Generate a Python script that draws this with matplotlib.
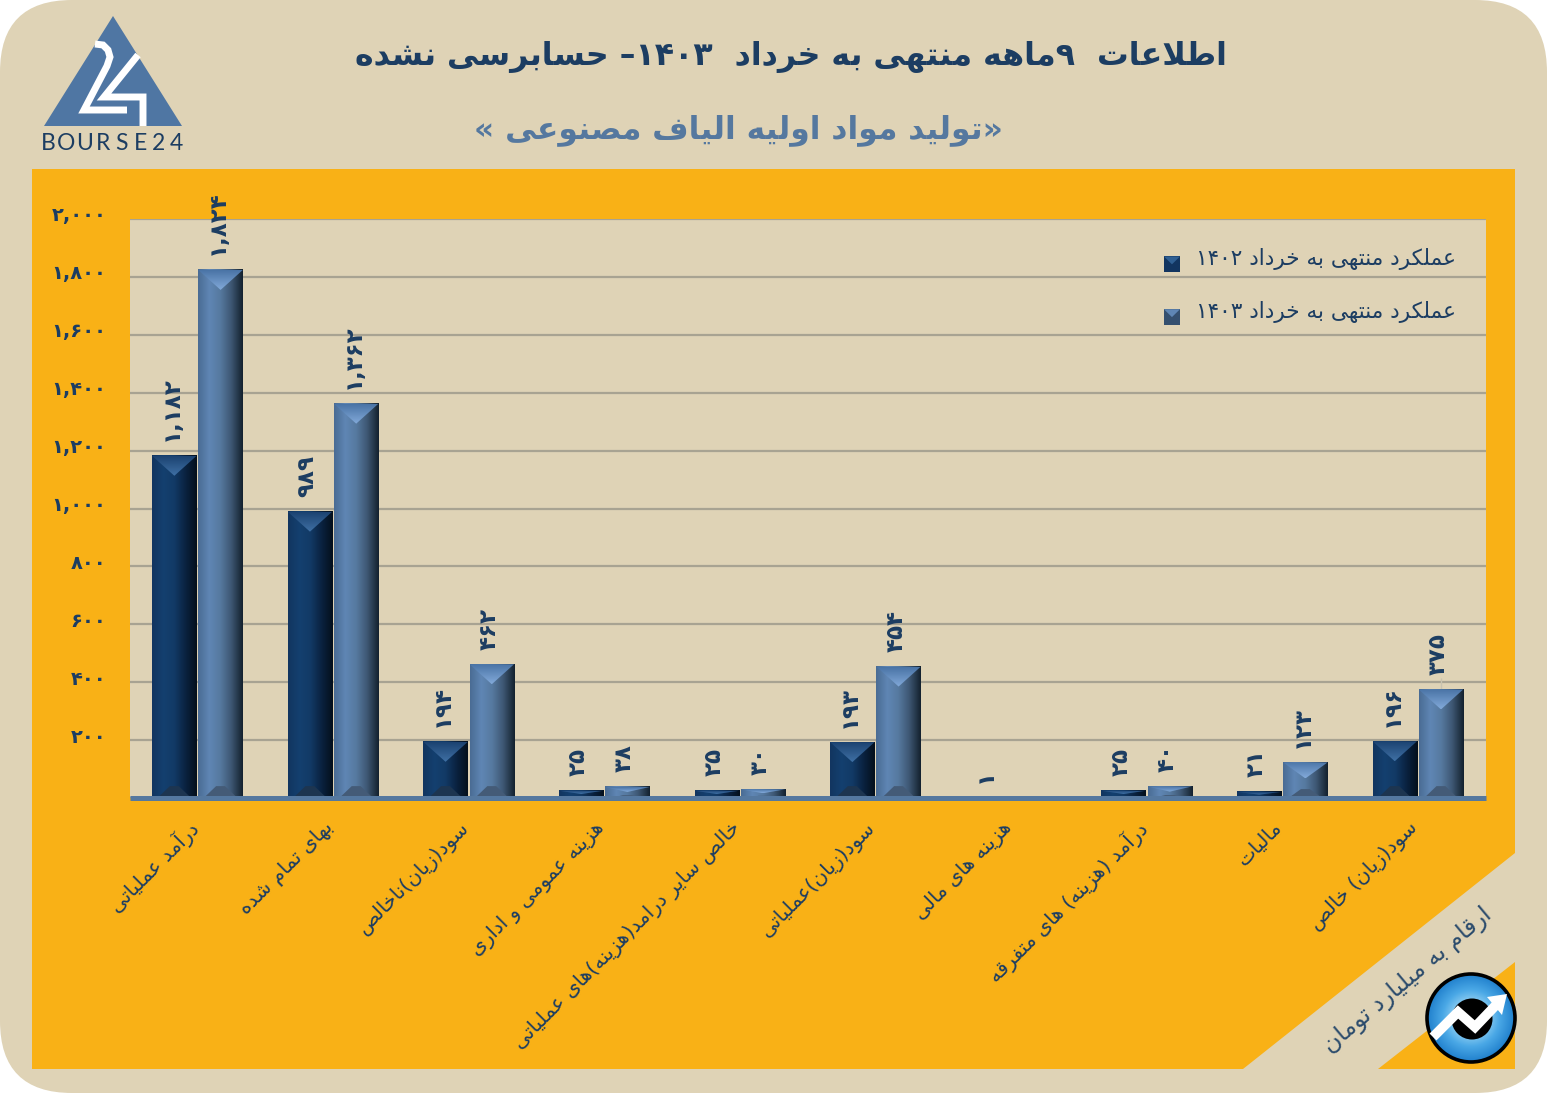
"""Bar chart of nine month results, Persian labels shaped by hand for matplotlib."""
import re

import matplotlib
matplotlib.use('Agg')
import matplotlib.pyplot as plt
import numpy as np
from matplotlib.colors import LinearSegmentedColormap
from matplotlib.legend_handler import HandlerBase
from matplotlib.patches import Circle, FancyBboxPatch, Patch, Polygon, Rectangle
from matplotlib.ticker import FuncFormatter
from matplotlib.transforms import ScaledTranslation

plt.rcParams['font.family'] = ['DejaVu Sans']

# .....................................................................................
categories = [
    'درآمد عملیاتی',
    'بهای تمام شده',
    'سود(زیان)ناخالص',
    'هزینه عمومی و اداری',
    'خالص سایر درامد(هزینه)های عملیاتی',
    'سود(زیان)عملیاتی',
    'هزینه های مالی',
    'درآمد (هزینه) های متفرقه',
    'مالیات',
    'سود(زیان) خالص',
]
values_1402 = [1182, 989, 194, 25, 25, 193, 1, 25, 21, 196]
values_1403 = [1824, 1362, 462, 38, 30, 454, 0, 40, 123, 375]
y_ticks = [0, 200, 400, 600, 800, 1000, 1200, 1400, 1600, 1800, 2000]

title = 'اطلاعات  ۹ماهه منتهی به خرداد  ۱۴۰۳– حسابرسی نشده'
subtitle = '»تولید مواد اولیه الیاف مصنوعی «'
legend_1402 = 'عملکرد منتهی به خرداد ۱۴۰۲'
legend_1403 = 'عملکرد منتهی به خرداد ۱۴۰۳'
unit_note = 'ارقام به میلیارد تومان'

NAVY = '#1c3d62'
BEIGE = '#dfd3b6'
ORANGE = '#f9b116'
STEEL = '#55789f'

# isolated form of the letters that take four forms, in order iso, final, init, medial
DUAL = {
    'ب': 0xFE8F, 'ت': 0xFE95, 'ث': 0xFE99, 'ج': 0xFE9D, 'ح': 0xFEA1, 'خ': 0xFEA5,
    'س': 0xFEB1, 'ش': 0xFEB5, 'ص': 0xFEB9, 'ض': 0xFEBD, 'ط': 0xFEC1, 'ظ': 0xFEC5,
    'ع': 0xFEC9, 'غ': 0xFECD, 'ف': 0xFED1, 'ق': 0xFED5, 'ل': 0xFEDD, 'م': 0xFEE1,
    'ن': 0xFEE5, 'ه': 0xFEE9, 'پ': 0xFB56, 'چ': 0xFB7A, 'ک': 0xFB8E, 'گ': 0xFB92,
    'ی': 0xFBFC,
}
RIGHT = {
    'آ': 0xFE81, 'ا': 0xFE8D, 'د': 0xFEA9, 'ذ': 0xFEAB, 'ر': 0xFEAD, 'ز': 0xFEAF,
    'ژ': 0xFB8A, 'و': 0xFEED,
}
MIRROR = str.maketrans({'(': ')', ')': '('})


# .....................................................................................
def fa(text):
    """Return Persian text in visual order using presentation forms."""
    shaped = []
    for i, ch in enumerate(text):
        prev_ch = text[i - 1] if i > 0 else ''
        next_ch = text[i + 1] if i + 1 < len(text) else ''
        joins_prev = prev_ch in DUAL
        joins_next = next_ch in DUAL or next_ch in RIGHT
        if ch == 'ا' and prev_ch == 'ل':
            continue
        if ch == 'ل' and next_ch == 'ا':
            shaped.append(chr(0xFEFC if joins_prev else 0xFEFB))
        elif ch in DUAL:
            offset = {(False, False): 0, (True, False): 1,
                      (False, True): 2, (True, True): 3}[(joins_prev, joins_next)]
            shaped.append(chr(DUAL[ch] + offset))
        elif ch in RIGHT:
            shaped.append(chr(RIGHT[ch] + (1 if joins_prev else 0)))
        else:
            shaped.append(ch)
    visual = ''.join(reversed(shaped)).translate(MIRROR)
    return re.sub('[۰-۹][۰-۹,]*', lambda m: m.group(0)[::-1], visual)


def fa_number(value):
    """Format a number with Persian digits and a thousands comma."""
    return f'{int(value):,}'.translate(str.maketrans('0123456789', '۰۱۲۳۴۵۶۷۸۹'))


def draw_bevel(ax, bar, side_colors, top_colors, bottom_color):
    """Paint the gradient faces of a bar over its plain rectangle."""
    x0, x1 = bar.get_x(), bar.get_x() + bar.get_width()
    height = bar.get_height()
    if height <= 0:
        return
    center = (x0 + x1) / 2
    bw = x1 - x0
    top_depth = min(69, height * 0.45)
    bottom_depth = min(41, height * 0.25)
    side = LinearSegmentedColormap.from_list('side', side_colors)
    ax.imshow(np.linspace(0, 1, 64).reshape(1, -1), extent=(x0, x1, 0, height),
              cmap=side, aspect='auto', zorder=2)
    top = Polygon([(x0, height), (x1, height), (center, height - top_depth)],
                  transform=ax.transData, fc='none', ec='none')
    ax.add_patch(top)
    top_map = LinearSegmentedColormap.from_list('top', top_colors)
    top_img = ax.imshow(np.linspace(0, 1, 32).reshape(-1, 1),
                        extent=(x0, x1, height - top_depth, height),
                        cmap=top_map, aspect='auto', zorder=2.1, origin='upper')
    top_img.set_clip_path(top)
    ax.add_patch(Polygon([(x0 + bw * 0.12, 0), (x1 - bw * 0.12, 0),
                          (center + bw * 0.1, bottom_depth), (center - bw * 0.1, bottom_depth)],
                         fc=bottom_color, ec='none', zorder=2.1))


class BevelHandler(HandlerBase):
    """Legend key: a square set a little low with a lighter wedge on top."""

    def create_artists(self, legend, orig_handle, xdescent, ydescent, width, height,
                       fontsize, trans):
        y0 = -ydescent - 5
        square = Rectangle((-xdescent, y0), width, height, fc=orig_handle.get_facecolor(),
                           ec='none', transform=trans)
        wedge = Polygon([(-xdescent, y0 + height), (-xdescent + width, y0 + height),
                         (-xdescent + width / 2, y0 + height / 2)],
                        fc=orig_handle.get_edgecolor(), ec='none', transform=trans)
        return [square, wedge]


# .....................................................................................
fig = plt.figure(figsize=(15.47, 10.94), dpi=100, facecolor='white')

# page furniture in pixel coordinates
bg = fig.add_axes([0, 0, 1, 1], zorder=0)
bg.set_xlim(0, 1547)
bg.set_ylim(1094, 0)
bg.axis('off')
bg.add_patch(FancyBboxPatch((0, 0), 1547, 1093, boxstyle='round,pad=0,rounding_size=72',
                            fc=BEIGE, ec='none'))
bg.add_patch(Polygon([(32, 169), (1515, 169), (1515, 853), (1243, 1069), (32, 1069)],
                     fc=ORANGE, ec='none'))
bg.add_patch(Polygon([(1515, 962), (1515, 1069), (1378, 1069)], fc=ORANGE, ec='none'))

bg.text(791, 57, fa(title), ha='center', va='center', color=NAVY, fontsize=22.8,
        fontweight='bold')
bg.text(738, 130, fa(subtitle), ha='center', va='center', color='#55789f', fontsize=22.6,
        fontweight='bold')
bg.text(1408, 980, fa(unit_note), ha='center', va='center', color='#2b4b6c', fontsize=17,
        rotation=40, rotation_mode='anchor')

# bourse24 logo
bg.add_patch(Polygon([(113, 16), (44, 126), (182, 126)], fc='#4f76a3', ec='none'))
bg.plot([95, 103, 108, 110, 107, 84, 127], [44, 45, 50, 57, 66, 110, 110],
        color='white', lw=5, solid_joinstyle='miter', solid_capstyle='butt')
bg.plot([138, 104, 143, 143], [55, 97, 97, 126],
        color='white', lw=5, solid_joinstyle='miter', solid_capstyle='butt')
for i, letter in enumerate('BOURSE24'):
    bg.text(48 + i * 18.4, 144, letter, ha='center', va='center', color=NAVY,
            fontsize=16.5, family='Lato')

# round badge
disc = Circle((1471, 1018), 44, fc='none', ec='none')
bg.add_patch(disc)
yy, xx = np.mgrid[-1:1:200j, -1:1:200j]
badge_map = LinearSegmentedColormap.from_list('badge', ['#a0d8f5', '#4aa8e6', '#1f7fcc'])
badge = bg.imshow(np.hypot(xx, yy), extent=(1427, 1515, 1062, 974), cmap=badge_map,
                  vmin=0.3, vmax=1, aspect='auto', zorder=3)
badge.set_clip_path(disc)
bg.add_patch(Circle((1471, 1018), 44, fc='none', ec='black', lw=2.6, zorder=4))
bg.add_patch(Circle((1472, 1019), 20.5, fc='black', ec='none', zorder=4))
bg.plot([1433, 1458, 1475, 1497], [1037, 1012, 1027, 1004], color='white', lw=7,
        solid_joinstyle='miter', solid_capstyle='butt', zorder=5)
bg.add_patch(Polygon([(1507, 994), (1487, 997), (1502, 1015)], fc='white', ec='none', zorder=5))
bg.set_xlim(0, 1547)
bg.set_ylim(1094, 0)

# chart
ax = fig.add_axes([130 / 1547, (1094 - 798) / 1094, 1356 / 1547, 579 / 1094], zorder=1)
ax.set_facecolor(BEIGE)

x = np.arange(len(categories))
width = 0.328
bars_1402 = ax.bar(x - 0.173, values_1402, width, color='#0f3158', zorder=2)
bars_1403 = ax.bar(x + 0.168, values_1403, width, color='#4f76a3', zorder=2)

for bar in bars_1402:
    draw_bevel(ax, bar, ['#123560', '#14406f', '#123a66', '#0a2240', '#04101c'],
               ['#1c4372', '#3f70a4'], '#1d3550')
for bar in bars_1403:
    draw_bevel(ax, bar, ['#4a6c94', '#5f86b4', '#56799f', '#3d5672', '#14222f'],
               ['#4a74a6', '#82a9d9'], '#445b77')

for bars in (bars_1402, bars_1403):
    for bar in bars:
        if bar.get_height() <= 0:
            continue
        ax.annotate(fa_number(bar.get_height()),
                    (bar.get_x() + bar.get_width() / 2, bar.get_height()),
                    xytext=(-2, 10.5), textcoords='offset points', rotation=90,
                    ha='center', va='bottom', color=NAVY, fontsize=16.5, fontweight='bold',
                    annotation_clip=False, zorder=6)

# leader line of the last value label
last = bars_1403[-1]
ax.vlines(last.get_x() + last.get_width() / 2, last.get_height(), last.get_height() + 40,
          color='#c9c3b0', lw=1, zorder=1.5)

ax.set_xlim(-0.5, len(categories) - 0.5)
ax.set_ylim(0, 2000)
ax.set_yticks(y_ticks)
ax.yaxis.set_major_formatter(
    FuncFormatter(lambda v, pos: fa_number(v) if v > 0 else ''))
ax.tick_params(axis='y', length=0, pad=17, labelsize=14, labelcolor=NAVY)
y_shift = ScaledTranslation(0, 5 / 100, fig.dpi_scale_trans)
for label in ax.get_yticklabels():
    label.set_fontweight('bold')
    label.set_transform(label.get_transform() + y_shift)
ax.set_xticks(x)
ax.set_xticklabels([fa(c) for c in categories], rotation=45, ha='right',
                   rotation_mode='anchor', fontsize=14.5, color=NAVY)
ax.tick_params(axis='x', length=0, pad=20)
x_shift = ScaledTranslation(-10 / 100, 8 / 100, fig.dpi_scale_trans)
for label in ax.get_xticklabels():
    label.set_transform(label.get_transform() + x_shift)

ax.grid(axis='y', color='#a8a392', lw=1.6)
ax.set_axisbelow(True)
for name in ('top', 'left', 'right'):
    ax.spines[name].set_visible(False)
ax.spines['bottom'].set_color(STEEL)
ax.spines['bottom'].set_linewidth(3.6)
ax.spines['bottom'].set_capstyle('butt')

# edge colour of a key carries the colour of its wedge
handles = [Patch(fc='#123560', ec='#2f5f92', label=fa(legend_1402)),
           Patch(fc='#35506f', ec='#5f86b4', label=fa(legend_1403))]
ax.legend(handles=handles, handler_map={Patch: BevelHandler()}, loc='upper left',
          bbox_to_anchor=(0.7625, 0.95), frameon=False, fontsize=15.6, labelcolor=NAVY,
          handlelength=0.74, handleheight=0.74, handletextpad=0.72, labelspacing=1.42,
          borderpad=0, borderaxespad=0)

fig.savefig('out.png', dpi=100)
